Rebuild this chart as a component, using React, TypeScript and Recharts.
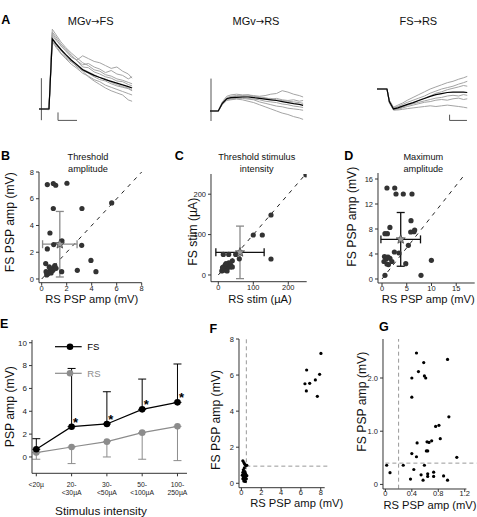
import React from 'react';
import {
  LineChart, Line, XAxis, YAxis, ScatterChart, Scatter, ErrorBar, ReferenceLine, LabelList,
} from 'recharts';

const FONT = "'Liberation Sans', Arial, Helvetica, sans-serif";

// ---------- Panel A: example traces (time in ms-like units, amplitude in mV-like units)
const tMgvFs = [0, 10.5, 14, 18, 23, 28, 34, 40, 46, 52, 58, 64, 70, 76, 82, 88, 94, 98];
const mgvFsAvg = [0, 0, 10, 9.3, 8.5, 7.8, 7.0, 6.3, 5.6, 5.2, 4.8, 4.5, 4.2, 3.95, 3.7, 3.45, 3.2, 3.0];
const mgvFsGray = [
  [0, 0, 11.4, 10.6, 9.6, 8.8, 8.0, 7.3, 6.6, 6.2, 5.6, 5.4, 4.9, 4.7, 4.3, 4.1, 3.8, 3.6],
  [0, 0.1, 10.8, 10.0, 9.0, 8.3, 7.4, 7.0, 7.6, 7.2, 6.8, 6.6, 6.2, 5.8, 6.0, 5.4, 5.0, 4.4],
  [0, 0, 9.8, 9.0, 8.0, 7.2, 6.4, 5.8, 5.1, 4.7, 4.2, 3.9, 3.4, 3.1, 2.8, 2.5, 2.2, 2.0],
  [0, -0.1, 10.2, 9.4, 8.6, 7.7, 6.8, 6.0, 5.4, 4.6, 4.0, 3.5, 3.0, 2.6, 2.3, 2.0, 1.3, 1.1],
  [0, 0, 10.5, 9.8, 9.1, 8.4, 7.6, 6.9, 6.0, 5.9, 5.3, 5.0, 4.6, 4.4, 4.0, 3.9, 3.5, 3.3],
  [0, 0.1, 9.6, 8.8, 7.9, 7.3, 6.7, 6.2, 5.5, 5.1, 4.6, 4.2, 4.0, 3.6, 3.3, 3.1, 2.9, 2.6],
  [0, 0, 11.0, 10.3, 9.3, 8.6, 7.7, 6.9, 6.3, 6.5, 6.0, 5.7, 5.2, 5.5, 5.0, 4.8, 4.3, 4.6],
  [0, 0, 10.0, 9.2, 8.4, 7.5, 6.9, 6.4, 5.7, 5.3, 4.9, 4.5, 4.3, 3.8, 3.5, 3.2, 3.0, 2.7],
];
const mgvFsArtifact = { t: 2.5, top: 4.4, bottom: -1.6 };
const mgvFsScale = { t0: 20, t1: 40, v0: -0.49, v1: -1.63 };

const tMgvRs = [0, 8.7, 13, 17.6, 22, 28, 34, 40, 46, 52, 58, 64, 70, 76, 82, 88, 94, 98];
const mgvRsAvg = [0, 0, 1.1, 1.75, 1.9, 1.95, 2.0, 2.0, 1.9, 1.8, 1.7, 1.6, 1.5, 1.35, 1.2, 1.05, 0.95, 0.8];
const mgvRsGray = [
  [0, 0.05, 1.3, 2.1, 2.3, 2.4, 2.3, 2.3, 2.2, 2.1, 2.2, 2.4, 2.5, 2.9, 2.7, 2.4, 2.2, 2.0],
  [0, 0, 0.9, 1.5, 1.6, 1.7, 1.6, 1.4, 1.2, 0.9, 0.6, 0.3, 0.0, -0.3, -0.5, -0.8, -1.0, -1.2],
  [0, 0, 1.2, 1.9, 2.1, 2.2, 2.1, 2.1, 2.0, 1.9, 1.8, 1.8, 1.6, 1.5, 1.4, 1.3, 1.2, 1.1],
  [0, -0.05, 1.0, 1.6, 1.7, 1.8, 1.8, 1.7, 1.6, 1.3, 1.1, 0.9, 0.7, 0.6, 0.4, 0.3, 0.2, 0.1],
  [0, 0.05, 1.2, 1.8, 2.0, 2.1, 2.2, 2.3, 2.1, 2.0, 1.9, 1.7, 1.8, 1.6, 1.5, 1.6, 1.4, 1.5],
  [0, 0, 1.0, 1.7, 1.8, 1.9, 1.9, 1.8, 1.7, 1.6, 1.4, 1.3, 1.2, 1.0, 0.9, 0.7, 0.6, 0.5],
];
const mgvRsArtifact = { t: 1.05, top: 4.63, bottom: -1.43 };

const tFsRs = [0, 10.5, 13, 17.4, 22, 27, 32, 38, 44, 50, 56, 62, 68, 74, 80, 86, 91, 95];
const fsRsAvg = [0, 0, -1.8, -2.85, -2.7, -2.45, -2.2, -1.95, -1.65, -1.35, -1.05, -0.8, -0.65, -0.5, -0.45, -0.45, -0.45, -0.5];
const fsRsGray = [
  [0, 0, -1.6, -2.6, -2.3, -2.0, -1.6, -1.2, -0.8, -0.4, 0.0, 0.3, 0.6, 0.9, 1.1, 1.4, 1.6, 1.8],
  [0, 0.05, -2.0, -3.0, -3.0, -2.9, -2.8, -2.7, -2.6, -2.5, -2.4, -2.5, -2.4, -2.3, -2.4, -2.5, -2.6, -2.7],
  [0, 0, -1.9, -2.9, -2.8, -2.6, -2.3, -2.0, -1.6, -1.3, -1.0, -0.6, -0.4, -0.1, 0.1, 0.3, 0.5, 0.4],
  [0, -0.05, -1.7, -2.8, -2.6, -2.4, -2.3, -2.1, -1.9, -1.7, -1.5, -1.3, -1.2, -1.0, -0.9, -1.0, -0.8, -0.9],
  [0, 0, -1.9, -3.0, -2.9, -2.7, -2.5, -2.3, -2.1, -1.9, -1.8, -1.6, -1.5, -1.6, -1.4, -1.3, -1.5, -1.4],
  [0, 0.05, -1.7, -2.7, -2.5, -2.2, -1.9, -1.6, -1.3, -1.0, -0.6, -0.3, 0.0, 0.2, 0.4, 0.7, 0.9, 1.1],
];
const fsRsScale = { t0: 76.4, t1: 94.7, v0: -3.67, v1: -4.49 };

// ---------- Panel B: threshold amplitude (mV)
const bRs = [0.45, 0.93, 1.12, 2.02, 0.93, 3.22, 5.6, 0.66, 1.62, 0.96, 3.2, 0.45, 3.94, 0.32, 2.85, 4.34, 1.6,
  0.4, 0.55, 0.7, 0.8, 0.95, 1.05, 0.6, 0.5, 0.75, 0.9, 0.35, 1.15];
const bFs = [7.06, 7.14, 7.01, 7.16, 5.27, 5.27, 5.69, 3.44, 2.85, 2.57, 2.52, 2.25, 1.39, 1.15, 0.65, 0.55, 0.55,
  0.3, 0.5, 0.7, 0.6, 0.85, 1.0, 0.9, 0.4, 0.45, 0.65, 0.55, 0.8];
const bMean = { x: 1.45, y: 2.6, ex: 1.38, ey: 2.45 };

// ---------- Panel C: threshold stimulus intensity (µA)
const cRs = [250.6, 150.6, 100, 125.7, 150.6, 60, 49.7, 14.3, 29.7,
  10, 15, 20, 20, 25, 30, 35, 40, 15, 25, 30, 35, 12, 40, 22];
const cFs = [248, 148.5, 99, 99, 39.6, 40, 51, 51, 51,
  10, 20, 15, 25, 20, 30, 25, 35, 12, 10, 20, 20, 18, 20, 28];
const cMean = { x: 62, y: 56, ex: 69, ey: 65 };

// ---------- Panel D: maximum amplitude (mV)
const dRs = [1.0, 2.57, 2.83, 4.3, 6.06, 5.86, 1.6, 0.6, 1.09, 6.6, 6.46, 5.8, 5.33, 2.5, 3.44,
  0.5, 0.8, 1.2, 1.6, 0.4, 1.0, 2.0, 1.3, 4.8, 9.98, 0.6, 7.88];
const dFs = [14.56, 14.56, 13.6, 13.6, 13.6, 9.33, 8.26, 7.25, 7.25, 7.84, 7.57, 7.52, 5.38, 4.32, 4.16,
  3.6, 3.2, 3.5, 3.3, 2.8, 2.4, 2.8, 2.3, 2.45, 2.98, 0.58, 0.58];
const dMean = { x: 3.78, y: 6.34, ex: 4.0, ey: 4.3 };

// ---------- Panel E: PSP amp vs stimulus intensity
const eCats = ['<20µ', '20-\n<30µA', '30-\n<50µA', '50-\n<100µA', '100-\n250µA'];
const eFsMean = [0.67, 2.65, 2.89, 4.17, 4.78];
const eFsSd = [0.93, 5.1, 2.82, 2.65, 3.36];
const eRsMean = [0.38, 0.87, 1.34, 2.13, 2.68];
const eRsSd = [0.58, 1.45, 1.34, 2.33, 3.0];
const eSig = [false, true, true, true, true];

// ---------- Panel F
const fRs = [8.02, 6.58, 7.89, 7.46, 6.41, 6.89, 6.55, 7.66,
  0.15, 0.25, 0.35, 0.45, 0.55, 0.3, 0.2, 0.35, 0.15, 0.4, 0.25, 0.1, 0.45, 0.3, 0.55, 0.2, 0.4, 0.15, 0.3, 0.5, 0.25, 0.4, 0.35];
const fFs = [7.2, 6.28, 6.04, 5.73, 5.52, 5.54, 5.12, 4.82,
  1.25, 1.15, 1.05, 0.98, 1.0, 0.85, 0.75, 0.65, 0.6, 0.55, 0.5, 0.45, 0.45, 0.4, 0.42, 0.35, 0.3, 0.25, 0.2, 0.25, 0.12, 0.1, 0.3];
const fThreshRs = 0.5;
const fThreshFs = 0.95;

// ---------- Panel G
const gRs = [0.47, 0.94, 0.58, 0.50, 0.40, 0.59, 0.61, 0.40, 0.96, 0.76, 0.81, 0.83, 0.70, 0.66, 0.63, 0.48, 0.62, 0.64,
  0.40, 0.47, 1.08, 0.02, 0.27, 0.59, 0.07, 0.43, 0.54, 0.64, 0.64, 0.73, 0.73, 0.88, 0.38, 0.57, 0.94];
const gFs = [2.47, 2.35, 2.29, 2.12, 2.0, 2.04, 2.0, 1.64, 1.27, 1.09, 1.11, 0.86, 0.82, 0.79, 0.80, 0.78, 0.63, 0.63,
  0.58, 0.52, 0.51, 0.36, 0.36, 0.36, 0.22, 0.28, 0.18, 0.2, 0.15, 0.23, 0.15, 0.16, 0.10, 0.08, 0.08];
const gThreshRs = 0.2;
const gThreshFs = 0.4;

// ---------- helpers
const toPts = (ts: number[], vs: number[]) => ts.map((t, i) => ({ t, v: vs[i] }));
const zipXY = (xs: number[], ys: number[]) => xs.map((x, i) => ({ x, y: ys[i] }));

const GRAY_TRACE = '#a4a4a4';

function TracePanel(props: any) {
  const { left, top, width, height, vDomain, times, grays, avg, artifact, scale } = props;
  return (
    <div style={{ position: 'absolute', left, top }}>
      <LineChart width={width} height={height} margin={{ top: 0, right: 0, bottom: 0, left: 0 }}>
        <XAxis type="number" dataKey="t" domain={[0, 100]} hide allowDataOverflow />
        <YAxis type="number" dataKey="v" domain={vDomain} hide allowDataOverflow />
        {grays.map((g: number[], i: number) => (
          <Line key={'g' + i} data={toPts(times, g)} dataKey="v" stroke={GRAY_TRACE} strokeWidth={1}
            dot={false} isAnimationActive={false} />
        ))}
        {artifact && (
          <Line data={[{ t: artifact.t, v: artifact.top }, { t: artifact.t, v: artifact.bottom }]} dataKey="v"
            stroke="#555" strokeWidth={1} dot={false} isAnimationActive={false} />
        )}
        <Line data={toPts(times, avg)} dataKey="v" stroke="#000" strokeWidth={1.2} dot={false} isAnimationActive={false} />
        {scale && (
          <Line data={[{ t: scale.t0, v: scale.v0 }, { t: scale.t0, v: scale.v1 }, { t: scale.t1, v: scale.v1 }]}
            dataKey="v" stroke="#555" strokeWidth={1} dot={false} isAnimationActive={false} />
        )}
      </LineChart>
    </div>
  );
}

const YW = 30, MT = 4, MR = 14, XH = 24;
const tickStyle = { fontSize: 7.5, fill: '#222', fontFamily: FONT };

const dot = (r: number, fill: string) => (p: any) => <circle cx={p.cx} cy={p.cy} r={r} fill={fill} />;

const starShape = (p: any) => {
  const { cx, cy } = p;
  const pts: string[] = [];
  for (let k = 0; k < 10; k++) {
    const r = k % 2 === 0 ? 4.8 : 2.1;
    const a = -Math.PI / 2 + (k * Math.PI) / 5;
    pts.push(`${cx + r * Math.cos(a)},${cy + r * Math.sin(a)}`);
  }
  return <polygon points={pts.join(' ')} fill="#9a9a9a" stroke="#333" strokeWidth={0.7} />;
};

function ScatterPanel(props: any) {
  const { box, xDomain, yDomain, xTicks, yTicks, xFmt, yFmt, children, xTickMargin = 0 } = props;
  const width = box.x1 - box.x0 + YW + MR;
  const height = box.y1 - box.y0 + MT + XH;
  return (
    <div style={{ position: 'absolute', left: box.x0 - YW, top: box.y0 - MT }}>
      <ScatterChart width={width} height={height} margin={{ top: MT, right: MR, bottom: 0, left: 0 }}>
        <XAxis type="number" dataKey="x" domain={xDomain} ticks={xTicks} allowDataOverflow interval={0}
          tickSize={3} tickMargin={xTickMargin} height={XH} stroke="#333" tick={tickStyle} tickFormatter={xFmt} />
        <YAxis type="number" dataKey="y" domain={yDomain} ticks={yTicks} allowDataOverflow interval={0}
          tickSize={3} tickMargin={2} width={YW} stroke="#333" tick={tickStyle} tickFormatter={yFmt} />
        {children}
      </ScatterChart>
    </div>
  );
}

const EXTick = (p: any) => {
  const lines = eCats[p.payload.value].split('\n');
  return (
    <g>
      {lines.map((l, k) => (
        <text key={k} x={p.x} y={p.y + 8 + k * 8.4} textAnchor="middle" dominantBaseline="central"
          fontSize={6.8} fill="#222" stroke="none" fontFamily={FONT}>{l}</text>
      ))}
    </g>
  );
};

const sigStar = (p: any) => {
  if (!p.value) return null;
  return (
    <text x={p.x + 4} y={p.y} textAnchor="middle" fontSize={13} fontWeight="bold" fill="#000" fontFamily={FONT}>*</text>
  );
};

const eRows = eCats.map((c, i) => ({
  i,
  fs: eFsMean[i],
  rs: eRsMean[i],
  fsErr: [0, eFsSd[i]],
  rsErr: [eRsSd[i], 0],
  sig: eSig[i],
}));

const fmtG = (v: number) => (v === 0 ? '0' : v.toFixed(1));

export default function App() {
  const eBox = { x0: 31.7, x1: 186.7, y0: 340, y1: 473.3 };
  const label = (x: number, y: number, s: string, size = 11.2) => (
    <text x={x} y={y} textAnchor="middle" dominantBaseline="central" fontSize={size} fill="#111" fontFamily={FONT}>{s}</text>
  );
  const title = (x: number, y: number, a: string, b: string) => (
    <text x={x} y={y} textAnchor="middle" dominantBaseline="central" fontSize={11} fill="#111" fontFamily={FONT}>
      {a}<tspan fontFamily="'DejaVu Sans', sans-serif" fontSize={10}>→</tspan>{b}
    </text>
  );
  const ylabel = (x: number, y: number, s: string, size = 12.2) => (
    <text transform={`translate(${x},${y}) rotate(-90)`} textAnchor="middle" dominantBaseline="central"
      fontSize={size} fill="#111" fontFamily={FONT}>{s}</text>
  );
  const letter = (x: number, y: number, s: string) => (
    <text x={x} y={y} textAnchor="middle" dominantBaseline="central" fontSize={12.5} fontWeight="bold"
      fill="#000" fontFamily={FONT}>{s}</text>
  );
  return (
    <div style={{ position: 'absolute', left: 0, top: 0, width: 477, height: 517, overflow: 'hidden', background: '#fff' }}>
      <TracePanel left={39.3} top={25.3} width={95} height={99.4} vDomain={[-2.2, 12]} times={tMgvFs}
        grays={mgvFsGray} avg={mgvFsAvg} artifact={mgvFsArtifact} scale={mgvFsScale} />
      <TracePanel left={210} top={26.7} width={95} height={99.4} vDomain={[-2.2, 12]} times={tMgvRs}
        grays={mgvRsGray} avg={mgvRsAvg} artifact={mgvRsArtifact} />
      <TracePanel left={376.7} top={61.3} width={95} height={63} vDomain={[-5, 4]} times={tFsRs}
        grays={fsRsGray} avg={fsRsAvg} scale={fsRsScale} />

      <ScatterPanel box={{ x0: 39, x1: 141.7, y0: 172.3, y1: 283 }} xDomain={[-0.216, 8]} yDomain={[-0.277, 8]}
        xTicks={[0, 2, 4, 6, 8]} yTicks={[0, 2, 4, 6, 8]}>
        <ReferenceLine segment={[{ x: 0, y: 0 }, { x: 8, y: 8 }]} stroke="#222" strokeDasharray="4 5" ifOverflow="visible" />
        <Scatter data={zipXY(bRs, bFs)} shape={dot(2.6, '#333')} isAnimationActive={false} />
        <Scatter data={[bMean]} shape={starShape} isAnimationActive={false}>
          <ErrorBar dataKey="ey" direction="y" width={4} stroke="#8a8a8a" strokeWidth={1.3} />
          <ErrorBar dataKey="ex" direction="x" width={4} stroke="#8a8a8a" strokeWidth={1.3} />
        </Scatter>
      </ScatterPanel>

      <ScatterPanel box={{ x0: 211, x1: 306.7, y0: 174, y1: 281.7 }} xDomain={[-20.9, 252.6]} yDomain={[-16.6, 250]}
        xTicks={[0, 100, 200]} yTicks={[0, 100, 200]}>
        <ReferenceLine segment={[{ x: 0, y: 0 }, { x: 250, y: 250 }]} stroke="#222" strokeDasharray="4 5" ifOverflow="visible" />
        <Scatter data={zipXY(cRs, cFs)} shape={dot(2.6, '#333')} isAnimationActive={false} />
        <Scatter data={[cMean]} shape={starShape} isAnimationActive={false}>
          <ErrorBar dataKey="ey" direction="y" width={4} stroke="#8a8a8a" strokeWidth={1.3} />
          <ErrorBar dataKey="ex" direction="x" width={4} stroke="#111" strokeWidth={1.3} />
        </Scatter>
      </ScatterPanel>

      <ScatterPanel box={{ x0: 378.3, x1: 475, y0: 173.3, y1: 283.3 }} xDomain={[-0.81, 18.73]} yDomain={[-0.64, 16.96]}
        xTicks={[0, 5, 10, 15]} yTicks={[0, 4, 8, 12, 16]}>
        <ReferenceLine segment={[{ x: 0, y: 0 }, { x: 16.8, y: 16.8 }]} stroke="#222" strokeDasharray="4 5" ifOverflow="visible" />
        <Scatter data={zipXY(dRs, dFs)} shape={dot(2.6, '#333')} isAnimationActive={false} />
        <Scatter data={[dMean]} shape={starShape} isAnimationActive={false}>
          <ErrorBar dataKey="ey" direction="y" width={4} stroke="#111" strokeWidth={1.3} />
          <ErrorBar dataKey="ex" direction="x" width={4} stroke="#111" strokeWidth={1.3} />
        </Scatter>
      </ScatterPanel>

      <div style={{ position: 'absolute', left: eBox.x0 - YW, top: eBox.y0 - MT }}>
        <LineChart width={eBox.x1 - eBox.x0 + YW + MR} height={eBox.y1 - eBox.y0 + MT + 30} data={eRows}
          margin={{ top: MT, right: MR, bottom: 0, left: 0 }}>
          <XAxis type="number" dataKey="i" domain={[-0.122, 4.27]} ticks={[0, 1, 2, 3, 4]} allowDataOverflow interval={0}
            tickSize={3} tickMargin={0} height={30} stroke="#333" tick={<EXTick />} />
          <YAxis type="number" domain={[-1.43, 10.24]} ticks={[0, 2, 4, 6, 8, 10]} allowDataOverflow interval={0}
            tickSize={3} tickMargin={2} width={YW} stroke="#333" tick={{ ...tickStyle, fontSize: 8 }} />
          <Line dataKey="rs" stroke="#8c8c8c" strokeWidth={1.2} isAnimationActive={false}
            dot={{ r: 3.3, fill: '#8c8c8c', stroke: 'none' }}>
            <ErrorBar dataKey="rsErr" direction="y" width={4} stroke="#8c8c8c" strokeWidth={1} />
          </Line>
          <Line dataKey="fs" stroke="#000" strokeWidth={1.2} isAnimationActive={false}
            dot={{ r: 3.3, fill: '#000', stroke: 'none' }}>
            <ErrorBar dataKey="fsErr" direction="y" width={4} stroke="#000" strokeWidth={1} />
            <LabelList dataKey="sig" content={sigStar} />
          </Line>
        </LineChart>
      </div>

      <ScatterPanel box={{ x0: 239.3, x1: 325, y0: 339, y1: 487.7 }} xDomain={[-0.24, 8.4]} yDomain={[-0.244, 8]}
        xTicks={[0, 2, 4, 6, 8]} yTicks={[0, 2, 4, 6, 8]} xTickMargin={-1.5}>
        <ReferenceLine segment={[{ x: fThreshRs, y: 0 }, { x: fThreshRs, y: 8 }]} stroke="#999" strokeDasharray="4 3" ifOverflow="visible" />
        <ReferenceLine segment={[{ x: fThreshRs, y: fThreshFs }, { x: 8.9, y: fThreshFs }]} stroke="#999" strokeDasharray="4 3" ifOverflow="visible" />
        <Scatter data={zipXY(fRs, fFs)} shape={dot(1.6, '#000')} isAnimationActive={false} />
      </ScatterPanel>

      <ScatterPanel box={{ x0: 383.3, x1: 466.7, y0: 339.3, y1: 489.3 }} xDomain={[-0.036, 1.225]} yDomain={[-0.086, 2.733]}
        xTicks={[0, 0.4, 0.8, 1.2]} yTicks={[0, 1, 2]} xFmt={fmtG} yFmt={fmtG} xTickMargin={-1.5}>
        <ReferenceLine segment={[{ x: gThreshRs, y: -0.08 }, { x: gThreshRs, y: 2.733 }]} stroke="#999" strokeDasharray="4 3" ifOverflow="visible" />
        <ReferenceLine segment={[{ x: 0, y: gThreshFs }, { x: 1.38, y: gThreshFs }]} stroke="#999" strokeDasharray="4 3" ifOverflow="visible" />
        <Scatter data={zipXY(gRs, gFs)} shape={dot(1.6, '#000')} isAnimationActive={false} />
      </ScatterPanel>

      <svg width={477} height={517} style={{ position: 'absolute', left: 0, top: 0, pointerEvents: 'none' }}>
        {letter(5.8, 20.3, 'A')}
        {title(90.7, 21.3, 'MGv', 'FS')}
        {title(256, 21.3, 'MGv', 'RS')}
        {title(418.3, 21.3, 'FS', 'RS')}

        {letter(5.5, 155.8, 'B')}
        {label(88, 157, 'Threshold', 9.2)}
        {label(88, 169, 'amplitude', 9.2)}
        {label(91.7, 299.3, 'RS PSP amp (mV)')}
        {ylabel(10, 222.2, 'FS PSP amp (mV)')}

        {letter(179.3, 155.8, 'C')}
        {label(256.7, 157, 'Threshold stimulus', 9.2)}
        {label(256.7, 169, 'intensity', 9.2)}
        {label(260, 299.3, 'RS stim (µA)')}
        {ylabel(193.3, 231.7, 'FS stim (µA)')}

        {letter(348.7, 155.8, 'D')}
        {label(423.3, 157, 'Maximum', 9.2)}
        {label(423.3, 169, 'amplitude', 9.2)}
        {label(428.3, 299.3, 'RS PSP amp (mV)')}
        {ylabel(351.7, 216.7, 'FS PSP amp (mV)')}

        {letter(4.2, 324.2, 'E')}
        {label(101, 511, 'Stimulus intensity', 11.8)}
        {ylabel(10, 406.7, 'PSP amp (mV)')}
        <line x1={55} y1={346.7} x2={81.7} y2={346.7} stroke="#000" strokeWidth={1.2} />
        <circle cx={70} cy={346.7} r={3.3} fill="#000" />
        <text x={87.3} y={346.7} dominantBaseline="central" fontSize={9.5} fill="#000" fontFamily={FONT}>FS</text>
        <line x1={55} y1={373.3} x2={81.7} y2={373.3} stroke="#8c8c8c" strokeWidth={1.2} />
        <circle cx={70} cy={373.3} r={3.3} fill="#8c8c8c" />
        <text x={87.3} y={373.3} dominantBaseline="central" fontSize={9.5} fill="#8c8c8c" fontFamily={FONT}>RS</text>

        {letter(213.3, 329.2, 'F')}
        {label(296.7, 503.3, 'RS PSP amp (mV)')}
        {ylabel(216, 420, 'FS PSP amp (mV)')}

        {letter(383.8, 326.7, 'G')}
        {label(430, 504.5, 'RS PSP amp (mV)')}
        {ylabel(362.3, 401.7, 'FS PSP amp (mV)')}
      </svg>
    </div>
  );
}
